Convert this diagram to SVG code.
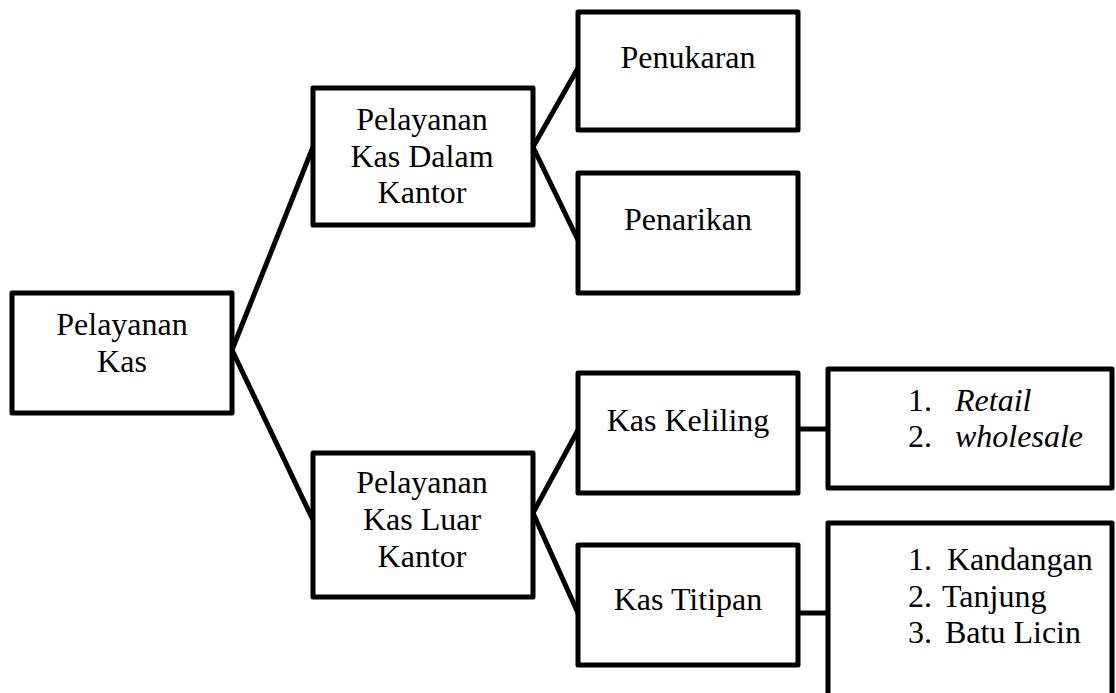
<svg xmlns="http://www.w3.org/2000/svg" width="1116" height="693" viewBox="0 0 1116 693">
<style>
.box{fill:#fff;stroke:#000;stroke-width:5;stroke-linejoin:round}
.ln{stroke:#000;stroke-width:5;fill:none;stroke-linecap:butt}
.c{text-anchor:middle}
.i{font-style:italic}
</style>
<rect width="1116" height="693" fill="#fff"/>
<g id="connectors">
<line class="ln" x1="232" y1="350" x2="313" y2="147"/>
<line class="ln" x1="232" y1="350" x2="313" y2="520"/>
<line class="ln" x1="533" y1="147" x2="578" y2="68"/>
<line class="ln" x1="533" y1="147" x2="578" y2="240"/>
<line class="ln" x1="533" y1="513" x2="578" y2="430"/>
<line class="ln" x1="533" y1="513" x2="578" y2="613"/>
<line class="ln" x1="798" y1="429" x2="828" y2="429"/>
<line class="ln" x1="798" y1="613" x2="828" y2="613"/>
</g>
<g font-family="Liberation Serif, Times New Roman, Times, Nimbus Roman, DejaVu Serif, Noto Serif, serif" font-size="32" fill="#000">
<g id="n-pelayanan-kas">
<rect class="box" x="12" y="293" width="220" height="120"/>
<text class="c" x="122" y="335">Pelayanan</text>
<text class="c" x="122" y="372">Kas</text>
</g>
<g id="n-dalam-kantor">
<rect class="box" x="313" y="88" width="220" height="137"/>
<text class="c" x="422" y="130">Pelayanan</text>
<text class="c" x="422" y="167">Kas Dalam</text>
<text class="c" x="422" y="203">Kantor</text>
</g>
<g id="n-luar-kantor">
<rect class="box" x="313" y="453" width="220" height="144"/>
<text class="c" x="422" y="493">Pelayanan</text>
<text class="c" x="422" y="530">Kas Luar</text>
<text class="c" x="422" y="567">Kantor</text>
</g>
<g id="n-penukaran">
<rect class="box" x="578" y="12" width="220" height="118"/>
<text class="c" x="688" y="68">Penukaran</text>
</g>
<g id="n-penarikan">
<rect class="box" x="578" y="173" width="220" height="120"/>
<text class="c" x="688" y="230">Penarikan</text>
</g>
<g id="n-kas-keliling">
<rect class="box" x="578" y="373" width="220" height="120"/>
<text class="c" x="688" y="431">Kas Keliling</text>
</g>
<g id="n-kas-titipan">
<rect class="box" x="578" y="545" width="220" height="120"/>
<text class="c" x="688" y="610">Kas Titipan</text>
</g>
<g id="n-retail">
<rect class="box" x="828" y="369" width="284" height="119"/>
<text x="908" y="411">1.</text>
<text class="i" x="955" y="411">Retail</text>
<text x="908" y="447">2.</text>
<text class="i" x="955" y="447">wholesale</text>
</g>
<g id="n-lokasi">
<rect class="box" x="828" y="523" width="284" height="176"/>
<text x="908" y="570">1.</text>
<text x="947" y="570">Kandangan</text>
<text x="908" y="607">2.</text>
<text x="942" y="607">Tanjung</text>
<text x="908" y="643">3.</text>
<text x="945" y="643">Batu Licin</text>
</g>
</g>
</svg>
